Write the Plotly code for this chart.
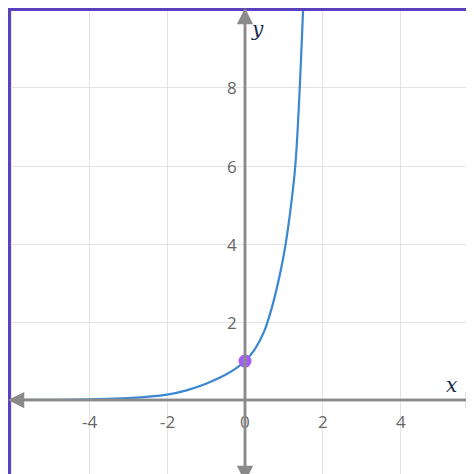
import plotly.graph_objects as go

xs = [-6.1, -5, -4, -3, -2, -1.5, -1, -0.5, -0.25, 0, 0.25, 0.5, 0.75, 1.0, 1.15, 1.29, 1.4, 1.49, 1.52]
ys = [0.004, 0.008, 0.02, 0.05, 0.14, 0.25, 0.42, 0.65, 0.8, 1.0, 1.3, 1.78, 2.6, 3.75, 4.75, 6.0, 7.9, 10.0, 10.5]
point_x, point_y = [0], [1]
xticks = [-4, -2, 2, 4]
yticks = [2, 4, 6, 8]

fig = go.Figure()
fig.add_trace(go.Scatter(x=xs, y=ys, mode="lines", line=dict(color="#3b87d0", width=2.2, shape="spline", smoothing=1.0), hoverinfo="skip"))
fig.add_trace(go.Scatter(x=point_x, y=point_y, mode="markers", marker=dict(color="#a35cf5", size=13), hoverinfo="skip"))

gray = "#8a8a8a"
ann = []
for t in xticks + [0]:
    ann.append(dict(x=t, y=0, yshift=-21, text=str(t), showarrow=False, font=dict(size=17, color="#666", family="Open Sans")))
for t in yticks:
    ann.append(dict(x=0, y=t, xshift=-13, text=str(t), showarrow=False, font=dict(size=17, color="#666", family="Open Sans")))
for (ax, ay, x, y) in [(-6.08, 0, 6.08, 0), (6.08, 0, -6.08, 0), (0, -2.1, 0, 10.05), (0, 10.05, 0, -2.1)]:
    ann.append(dict(x=x, y=y, ax=ax, ay=ay, xref="x", yref="y", axref="x", ayref="y", showarrow=True,
                    arrowhead=2, arrowsize=1.3, arrowwidth=2.5, arrowcolor=gray, text=""))
ann.append(dict(x=5.3, y=0, yshift=15, text="<i>x</i>", showarrow=False, font=dict(size=20, color="#1a2a4a", family="DejaVu Serif")))
ann.append(dict(x=0, y=9.5, xshift=12, text="<i>y</i>", showarrow=False, font=dict(size=20, color="#1a2a4a", family="DejaVu Serif")))

fig.update_layout(
    width=474, height=474, margin=dict(l=0, r=0, t=0, b=0),
    plot_bgcolor="white", paper_bgcolor="white", showlegend=False,
    xaxis=dict(range=[-6.08, 6.08], tickvals=[-6, -4, -2, 0, 2, 4, 6], showticklabels=False, gridcolor="#e3e3e3", zeroline=False, fixedrange=True),
    yaxis=dict(range=[-2.1, 10.05], tickvals=[-2, 0, 2, 4, 6, 8, 10], showticklabels=False, gridcolor="#e3e3e3", zeroline=False, fixedrange=True),
    annotations=ann,
    shapes=[dict(type="rect", xref="paper", yref="paper", x0=0.002, y0=0.002, x1=0.998, y1=0.998, line=dict(color="#5a3fc0", width=4))],
)
fig.write_html("out.html", config={"displayModeBar": False})
